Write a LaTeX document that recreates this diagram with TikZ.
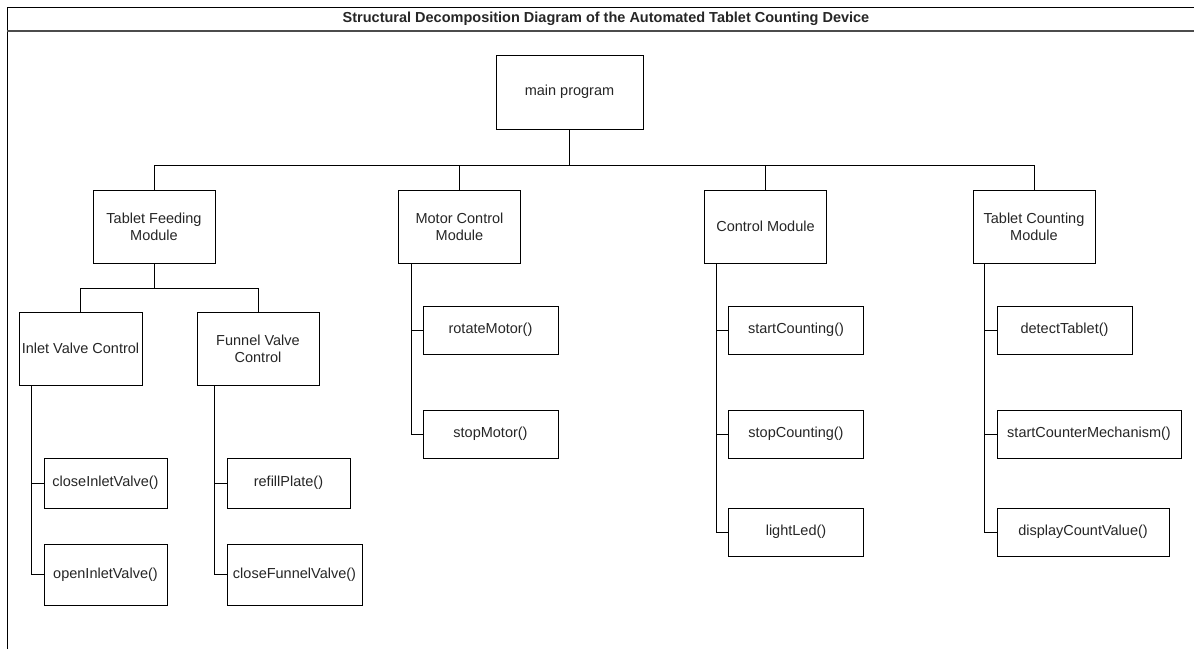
\documentclass[tikz,border=0pt]{standalone}
\usepackage{fontspec}
\setmainfont{Liberation Sans}
\usepackage{tikz}
\usetikzlibrary{positioning}
\tikzstyle{block}=[draw,fill=white,rectangle,inner sep=0pt,align=center,text=black!85]
\tikzstyle{every node}=[font=\fontsize{14.5}{17}\selectfont]
\newcommand{\fn}[1]{#1()}

\begin{document}
\begin{tikzpicture}[x=1pt,y=-1pt,line width=1pt]
  \useasboundingbox (0,0) rectangle (1194,649);
  % frame and title
  \draw (7,649) -- (7,7) -- (1194,7);
  \draw[black!70, line width=1.3pt] (7,31) -- (1194,31);
  \node[font=\fontsize{14.5}{17}\selectfont\bfseries,text=black!85] (title) at (606,19)
    {Structural Decomposition Diagram of the Automated Tablet Counting Device};

  \node[block, minimum width=147pt, minimum height=74pt] (main) at (569.5,92) {main program};

  \node[block, minimum width=122pt, minimum height=73pt] (feeding) at (154,226.5) {Tablet Feeding\\Module};
  \node[block, minimum width=122pt, minimum height=73pt] (motor) at (459.5,226.5) {Motor Control\\Module};
  \node[block, minimum width=122pt, minimum height=73pt] (control) at (765.5,226.5) {Control Module};
  \node[block, minimum width=122pt, minimum height=73pt] (counting) at (1034,226.5) {Tablet Counting\\Module};

  \node[block, minimum width=123pt, minimum height=73pt] (inlet) at (80.5,348.5) {Inlet Valve Control};
  \node[block, minimum width=122pt, minimum height=73pt] (funnel) at (258,348.5) {Funnel Valve\\Control};

  \node[block, minimum width=123pt, minimum height=50pt] (closeinlet) at (105.5,483) {\fn{closeInletValve}};
  \node[block, minimum width=123pt, minimum height=61pt] (openinlet) at (105.5,574.5) {\fn{openInletValve}};
  \node[block, minimum width=123pt, minimum height=50pt] (refill) at (288.5,483) {\fn{refillPlate}};
  \node[block, minimum width=135pt, minimum height=61pt] (closefunnel) at (294.5,574.5) {\fn{closeFunnelValve}};

  \node[block, minimum width=135pt, minimum height=48pt] (rotate) at (490.5,330) {\fn{rotateMotor}};
  \node[block, minimum width=135pt, minimum height=48pt] (stopmotor) at (490.5,434) {\fn{stopMotor}};

  \node[block, minimum width=135pt, minimum height=48pt] (startcount) at (796,330) {\fn{startCounting}};
  \node[block, minimum width=135pt, minimum height=48pt] (stopcount) at (796,434) {\fn{stopCounting}};
  \node[block, minimum width=135pt, minimum height=48pt] (lightled) at (796,532) {\fn{lightLed}};

  \node[block, minimum width=135pt, minimum height=48pt] (detect) at (1064.5,330) {\fn{detectTablet}};
  \node[block, minimum width=184pt, minimum height=48pt] (startcounter) at (1089,434) {\fn{startCounterMechanism}};
  \node[block, minimum width=172pt, minimum height=48pt] (display) at (1083,532) {\fn{displayCountValue}};

  % tree connectors
  \draw (main.south) -- ++(0,36) -| (feeding.north);
  \draw (main.south) -- ++(0,36) -| (motor.north);
  \draw (main.south) -- ++(0,36) -| (control.north);
  \draw (main.south) -- ++(0,36) -| (counting.north);
  \draw (feeding.south) -- ++(0,25) -| (inlet.north);
  \draw (feeding.south) -- ++(0,25) -| (funnel.north);

  \draw ([xshift=13pt]inlet.south west) |- (closeinlet.west);
  \draw ([xshift=13pt]inlet.south west) |- (openinlet.west);
  \draw ([xshift=18pt]funnel.south west) |- (refill.west);
  \draw ([xshift=18pt]funnel.south west) |- (closefunnel.west);
  \draw ([xshift=13pt]motor.south west) |- (rotate.west);
  \draw ([xshift=13pt]motor.south west) |- (stopmotor.west);
  \draw ([xshift=12pt]control.south west) |- (startcount.west);
  \draw ([xshift=12pt]control.south west) |- (stopcount.west);
  \draw ([xshift=12pt]control.south west) |- (lightled.west);
  \draw ([xshift=12pt]counting.south west) |- (detect.west);
  \draw ([xshift=12pt]counting.south west) |- (startcounter.west);
  \draw ([xshift=12pt]counting.south west) |- (display.west);
\end{tikzpicture}
\end{document}
